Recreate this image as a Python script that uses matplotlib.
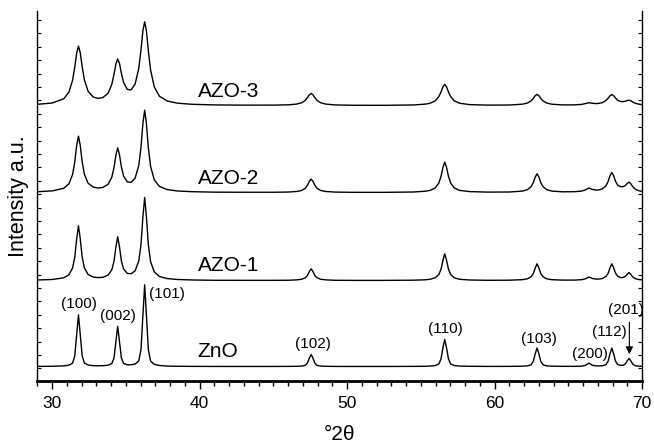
import numpy as np
import matplotlib
matplotlib.use('Agg')
import matplotlib.pyplot as plt
from matplotlib.ticker import MultipleLocator

plt.rcParams['font.family'] = ['Liberation Sans', 'DejaVu Sans']

# 2theta grid (deg), denser around the reflections
two_theta = [29.0, 30.0, 30.78, 31.13, 31.38, 31.53, 31.66, 31.78, 31.90, 32.03, 32.18, 32.43, 32.78, 33.1, 33.44,
             33.79, 34.04, 34.19, 34.32, 34.44, 34.56, 34.69, 34.84, 35.09, 35.35, 35.62, 35.87, 36.02, 36.15, 36.27,
             36.39, 36.52, 36.67, 36.92, 37.27, 37.8, 38.5, 39.5, 41.0, 43.0, 45.0,
             46.0, 46.56, 46.91, 47.16, 47.31, 47.44, 47.56, 47.68, 47.81, 47.96, 48.21, 48.56, 49.2, 50.5, 52.5, 54.5,
             55.3, 55.62, 55.97, 56.22, 56.37, 56.50, 56.62, 56.74, 56.87, 57.02, 57.27, 57.62, 58.3, 59.5, 61.0,
             61.88, 62.23, 62.48, 62.63, 62.76, 62.88, 63.00, 63.13, 63.28, 63.53, 63.88, 64.6, 65.4,
             65.9, 66.15, 66.40, 66.65, 66.95, 67.3, 67.55, 67.70, 67.83, 67.95, 68.07, 68.20, 68.35, 68.55, 68.72,
             68.87, 69.00, 69.12, 69.24, 69.37, 69.55, 69.8, 70.0]

# intensities (a.u.) above each pattern's own baseline
zno = [0.1, 0.2, 0.6, 1.3, 3.4, 10.6, 32.3, 51.6, 32.3, 10.7, 3.5, 1.5, 0.8, 0.7, 0.8,
       1.3, 2.9, 8.5, 25.1, 40.1, 25.2, 8.6, 3.1, 1.7, 1.7, 2.4, 5.6, 16.9, 51.1, 81.7,
       51.0, 16.8, 5.4, 2.1, 1.0, 0.4, 0.2, 0.1, 0.05, 0.03, 0.04,
       0.08, 0.2, 0.4, 1.1, 3.4, 8.4, 12.0, 8.4, 3.4, 1.1, 0.4, 0.2, 0.07, 0.03, 0.03, 0.1,
       0.2, 0.4, 0.9, 2.5, 7.7, 18.9, 27.0, 18.9, 7.7, 2.5, 0.9, 0.4, 0.2, 0.07, 0.1,
       0.3, 0.6, 1.7, 5.3, 13.0, 18.5, 13.0, 5.3, 1.7, 0.6, 0.3, 0.15, 0.13,
       0.3, 1.1, 3.4, 1.1, 0.5, 0.7, 1.8, 5.3, 12.9, 18.4, 12.9, 5.4, 1.9, 1.1, 1.2,
       2.6, 5.7, 8.0, 5.6, 2.4, 0.7, 0.3, 0.2]

azo1 = [0.5, 1.0, 2.7, 5.7, 12.5, 23.4, 41.8, 54.7, 41.9, 23.6, 12.7, 6.1, 3.4, 2.9, 3.2,
        5.4, 10.7, 19.2, 33.6, 43.7, 33.8, 19.7, 11.5, 7.1, 6.7, 9.7, 19.5, 35.9, 63.6, 83.0,
        63.4, 35.6, 18.9, 8.6, 4.0, 1.9, 1.0, 0.5, 0.2, 0.15, 0.15,
        0.25, 0.6, 1.2, 2.7, 5.0, 9.0, 11.7, 9.0, 5.0, 2.7, 1.2, 0.6, 0.2, 0.1, 0.1, 0.3,
        0.7, 1.2, 2.7, 6.0, 11.4, 20.4, 26.7, 20.4, 11.4, 6.0, 2.7, 1.2, 0.5, 0.2, 0.3,
        0.8, 1.7, 3.8, 7.1, 12.7, 16.7, 12.7, 7.1, 3.8, 1.7, 0.8, 0.4, 0.4,
        0.8, 1.6, 3.5, 1.9, 1.3, 1.9, 4.0, 7.2, 12.8, 16.7, 12.9, 7.4, 4.3, 2.9, 3.0,
        4.1, 6.3, 8.0, 6.1, 3.5, 1.8, 0.9, 0.6]

azo2 = [0.8, 1.6, 4.2, 8.7, 18.0, 30.5, 47.1, 56.3, 47.2, 30.8, 18.4, 9.3, 5.4, 4.5, 5.1,
        8.2, 15.3, 24.8, 37.5, 44.7, 37.9, 25.6, 16.5, 10.6, 10.2, 14.3, 27.1, 45.1, 69.1, 82.3,
        68.8, 44.6, 26.2, 12.6, 6.1, 2.9, 1.5, 0.8, 0.35, 0.25, 0.25,
        0.45, 1.0, 2.0, 4.2, 7.2, 11.2, 13.4, 11.2, 7.2, 4.2, 2.0, 1.0, 0.4, 0.17, 0.17, 0.5,
        1.3, 2.1, 4.5, 9.5, 16.3, 25.3, 30.4, 25.3, 16.3, 9.5, 4.5, 2.1, 0.9, 0.4, 0.5,
        1.4, 2.8, 5.9, 10.1, 15.6, 18.7, 15.6, 10.1, 6.0, 2.9, 1.4, 0.7, 0.8,
        1.4, 2.6, 4.5, 3.0, 2.3, 3.5, 6.6, 11.0, 16.8, 20.1, 16.9, 11.3, 7.4, 5.8, 5.9,
        7.0, 9.2, 10.4, 8.7, 5.8, 3.2, 1.7, 1.2]

azo3 = [1.2, 2.5, 6.7, 13.3, 25.2, 38.6, 52.6, 59.4, 52.9, 39.0, 25.8, 14.3, 8.5, 7.1, 8.0,
        12.3, 21.1, 31.2, 41.6, 46.6, 42.2, 32.3, 23.1, 16.1, 15.6, 21.4, 37.1, 55.5, 74.9, 83.7,
        74.5, 54.6, 35.7, 18.7, 9.3, 4.5, 2.3, 1.2, 0.6, 0.35, 0.4,
        0.7, 1.4, 2.7, 5.1, 7.9, 10.8, 12.1, 10.8, 7.9, 5.1, 2.7, 1.4, 0.55, 0.25, 0.2, 0.55,
        1.4, 2.2, 4.6, 8.9, 13.7, 18.7, 21.1, 18.7, 13.7, 8.9, 4.6, 2.3, 0.9, 0.4, 0.5,
        1.3, 2.5, 4.7, 7.2, 9.9, 11.1, 9.9, 7.2, 4.7, 2.5, 1.3, 0.6, 0.65,
        1.1, 1.9, 2.8, 2.2, 1.9, 2.8, 4.9, 7.3, 9.8, 11.0, 9.9, 7.5, 5.2, 4.0, 3.9,
        4.3, 5.0, 5.3, 4.7, 3.5, 2.2, 1.3, 0.9]

patterns = [zno, azo1, azo2, azo3]
names = ['ZnO', 'AZO-1', 'AZO-2', 'AZO-3']
offsets = [0, 86, 174, 261]   # vertical stacking

# reflections, label positions
hkl = ['(100)', '(002)', '(101)', '(102)', '(110)', '(103)', '(200)', '(112)', '(201)']
hkl_x = [31.8, 34.47, 37.8, 47.65, 56.68, 63.0, 66.47, 67.8, 68.88]
hkl_y = [62, 50, 72.5, 22.5, 37.5, 27.2, 12.5, 34, 56.5]

fig = plt.figure(figsize=(6.54, 4.48), dpi=100)
ax = fig.add_axes([0.0573, 0.1496, 0.9244, 0.8258])

x = np.array(two_theta)
for name, y, off in zip(names, patterns, offsets):
    ax.plot(x, np.array(y) + off, color='k', lw=1.0)
    ax.text(39.85, off + 14.5, name, fontsize=15, ha='left', va='center')

for lab, hx, hy in zip(hkl, hkl_x, hkl_y):
    ax.text(hx, hy, lab, fontsize=11, ha='center', va='center')

# arrow pointing at (201)
ax.annotate('', xy=(69.14, 9.5), xytext=(69.14, 47),
            arrowprops=dict(arrowstyle='-|>', color='k', lw=0.8, mutation_scale=11))

ax.set_xlim(29, 70)
ax.set_ylim(-14.5, 355.5)

ax.spines['top'].set_visible(False)
ax.spines['bottom'].set_linewidth(2.0)
ax.spines['left'].set_linewidth(1.0)
ax.spines['right'].set_linewidth(1.0)

ax.set_xticks([30, 40, 50, 60, 70])
ax.xaxis.set_minor_locator(MultipleLocator(1))
ax.tick_params(axis='x', which='major', direction='out', length=6, width=1.0, labelsize=12.5, pad=5)
ax.tick_params(axis='x', which='minor', direction='out', length=3.5, width=1.0)

ax.set_yticks(np.arange(-1.9, 355, 13.4))
ax.tick_params(axis='y', which='both', direction='in', left=True, right=True,
               labelleft=False, length=3, width=0.8)

ax.set_xlabel('°2θ', fontsize=15, labelpad=10)
ax.set_ylabel('Intensity a.u.', fontsize=15.5, labelpad=6)

fig.savefig('out.png', dpi=100)
